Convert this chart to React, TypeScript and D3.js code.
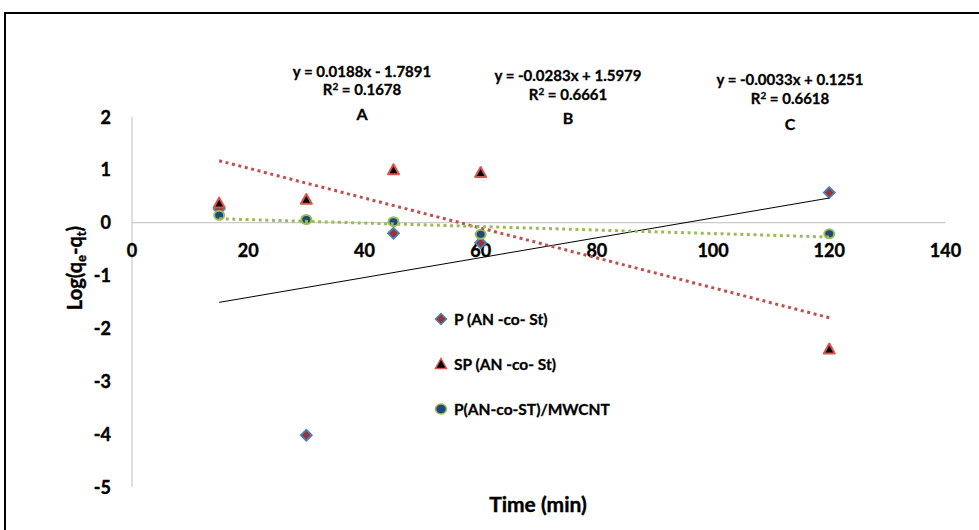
import React from "react";
import * as d3 from "d3";

const times = [15, 30, 45, 60, 120];
const pValues = [0.26, -4.02, -0.2, -0.38, 0.57];
const spValues = [0.37, 0.44, 1.0, 0.95, -2.39];
const mwValues = [0.14, 0.06, 0.02, -0.22, -0.21];
const seriesNames = ["P (AN -co- St)", "SP (AN -co- St)", "P(AN-co-ST)/MWCNT"];
const xTicks = [0, 20, 40, 60, 80, 100, 120, 140];
const yTicks = [2, 1, 0, -1, -2, -3, -4, -5];
const slopes = [0.0188, -0.0283, -0.0033];
const intercepts = [-1.7891, 1.5979, 0.1251];
const eqTexts = ["y = 0.0188x - 1.7891", "y = -0.0283x + 1.5979", "y = -0.0033x + 0.1251"];
const r2Texts = ["0.1678", "0.6661", "0.6618"];
const fitLabels = ["A", "B", "C"];

const FONT = "Lato, 'Open Sans', sans-serif";

export default function App() {
  const x = d3.scaleLinear().domain([0, 140]).range([132, 945.5]);
  const y = d3.scaleLinear().domain([-5, 2]).range([487, 117]);
  const line = d3.line<[number, number]>().x((d) => x(d[0])).y((d) => y(d[1]));
  const fitX = [15, 120];
  const fitStyles = [
    { stroke: "#000", width: 1, dash: undefined as string | undefined },
    { stroke: "#c0504d", width: 3, dash: "3 3.6" },
    { stroke: "#9bbb59", width: 3, dash: "3 3.6" },
  ];
  const labelPos = [
    { cx: 362, y: [77, 95, 120] },
    { cx: 568, y: [81, 100, 124] },
    { cx: 790, y: [85, 104, 130] },
  ];
  const diamond = (cx: number, cy: number, r: number) =>
    `M${cx},${cy - r}L${cx + r},${cy}L${cx},${cy + r}L${cx - r},${cy}Z`;
  const tri = (cx: number, cy: number, r: number) =>
    `M${cx},${cy - r}L${cx + r},${cy + r * 0.8}L${cx - r},${cy + r * 0.8}Z`;

  const pPts = times.map((t, i) => [t, pValues[i]] as [number, number]);
  const spPts = times.map((t, i) => [t, spValues[i]] as [number, number]);
  const mwPts = times.map((t, i) => [t, mwValues[i]] as [number, number]);

  const heavy = { stroke: "#000", strokeWidth: 0.4 };

  return (
    <svg
      width={979}
      height={530}
      style={{ position: "absolute", left: 0, top: 0, background: "#fff" }}
      fontFamily={FONT}
    >
      <rect x={5} y={13} width={990} height={530} fill="#fff" stroke="#000" strokeWidth={2} />
      {/* axes */}
      <line x1={x(0)} x2={x(0)} y1={y(2)} y2={y(-5)} stroke="#bfbfbf" strokeWidth={1} />
      <line x1={x(0)} x2={x(140)} y1={y(0)} y2={y(0)} stroke="#bfbfbf" strokeWidth={1} />
      <g {...heavy}>
        {yTicks.map((t) => (
          <text key={"y" + t} x={111} y={y(t) + 6.5} textAnchor="end" fontSize={18} fontWeight="bold">
            {t}
          </text>
        ))}
        {xTicks.map((t) => (
          <text key={"x" + t} x={x(t)} y={257} textAnchor="middle" fontSize={18} fontWeight="bold">
            {t}
          </text>
        ))}
      </g>
      {/* markers */}
      {pPts.map((d, i) => (
        <path key={"p" + i} d={diamond(x(d[0]), y(d[1]), 5.5)} fill="#953735" stroke="#4f81bd" strokeWidth={1.8} />
      ))}
      {spPts.map((d, i) => (
        <path key={"s" + i} d={tri(x(d[0]), y(d[1]), 5.5)} fill="#000" stroke="#d9534f" strokeWidth={2} strokeLinejoin="round" />
      ))}
      {mwPts.map((d, i) => (
        <ellipse key={"m" + i} cx={x(d[0])} cy={y(d[1])} rx={5} ry={4.5} fill="#1f497d" stroke="#9bbb59" strokeWidth={2} />
      ))}
      {/* trendlines */}
      {slopes.map((s, i) => (
        <path
          key={"f" + i}
          d={line(fitX.map((t) => [t, s * t + intercepts[i]] as [number, number])) || ""}
          fill="none"
          stroke={fitStyles[i].stroke}
          strokeWidth={fitStyles[i].width}
          strokeDasharray={fitStyles[i].dash}
        />
      ))}
      {/* equations */}
      {eqTexts.map((e, i) => (
        <g key={"eq" + i} fontWeight="bold" textAnchor="middle" {...heavy} strokeWidth={0.3}>
          <text x={labelPos[i].cx} y={labelPos[i].y[0]} fontSize={15}>{e}</text>
          <text x={labelPos[i].cx} y={labelPos[i].y[1]} fontSize={15}>
            R<tspan fontSize={10} dy={-5}>2</tspan>
            <tspan dy={5}>{" = " + r2Texts[i]}</tspan>
          </text>
          <text x={labelPos[i].cx} y={labelPos[i].y[2]} fontSize={16}>{fitLabels[i]}</text>
        </g>
      ))}
      {/* legend */}
      <path d={diamond(441, 319, 5.5)} fill="#953735" stroke="#4f81bd" strokeWidth={1.5} />
      <path d={tri(441, 364, 5.5)} fill="#000" stroke="#d9534f" strokeWidth={1.5} />
      <ellipse cx={441} cy={409} rx={5.5} ry={5} fill="#1f497d" stroke="#9bbb59" strokeWidth={1.5} />
      <g fontWeight="bold" fontSize={15.5} {...heavy} strokeWidth={0.3}>
        <text x={454} y={325}>{seriesNames[0]}</text>
        <text x={454} y={370}>{seriesNames[1]}</text>
        <text x={454} y={415}>{seriesNames[2]}</text>
      </g>
      {/* axis titles */}
      <g {...heavy}>
        <text x={538} y={512} textAnchor="middle" fontSize={21} fontWeight="bold">Time (min)</text>
        <text transform="translate(82,268) rotate(-90)" textAnchor="middle" fontSize={20} fontWeight="bold">
          Log(q<tspan fontSize={13} dy={4}>e</tspan>
          <tspan dy={-4}>-q</tspan>
          <tspan fontSize={13} dy={4}>t</tspan>
          <tspan dy={-4}>)</tspan>
        </text>
      </g>
    </svg>
  );
}
